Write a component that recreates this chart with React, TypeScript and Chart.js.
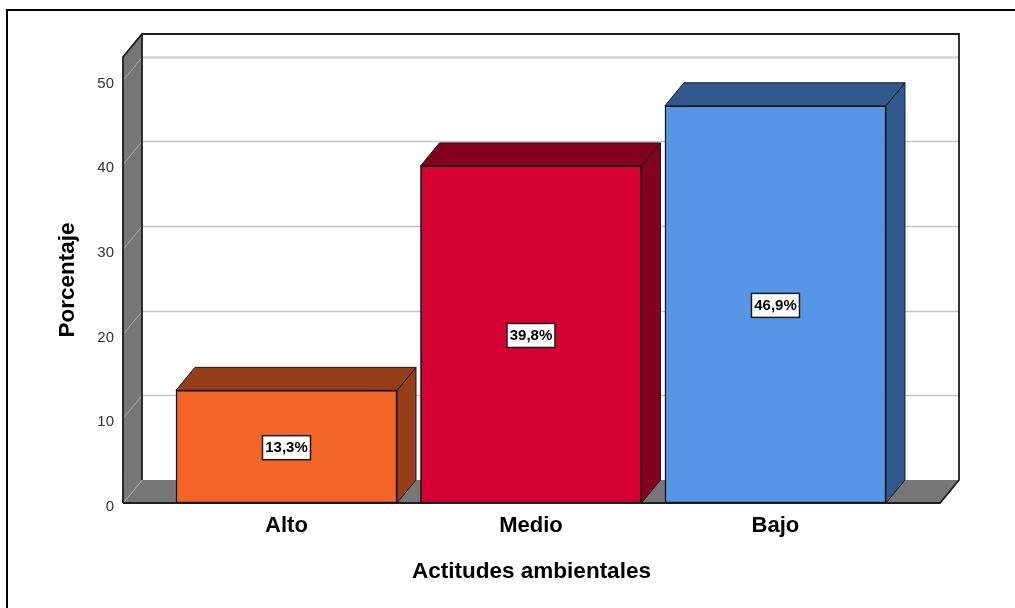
import React, { useEffect, useRef } from "react";
import { Chart, registerables } from "chart.js";

Chart.register(...registerables);

const categories = ["Alto", "Medio", "Bajo"];
const percentages = [13.3, 39.8, 46.9];
const percentLabels = ["13,3%", "39,8%", "46,9%"];
const frontColors = ["#F26527", "#D60032", "#5596E6"];
const sideColors = ["#953E18", "#84001F", "#30598E"];
const yTicks = [0, 10, 20, 30, 40, 50];
const xPositions = [0, 1, 2];
const Y_MAX = 52.66;
const X_MIN = -0.6687;
const X_MAX = 2.673;
const DEPTH_X = 19;
const DEPTH_Y = -23;
const WALL = "#767676";
const FONT = "'Liberation Sans', Arial, sans-serif";

function poly(ctx: CanvasRenderingContext2D, pts: number[][], fill: string | null, stroke: string | null, lw = 1) {
  ctx.beginPath();
  pts.forEach((p, i) => (i ? ctx.lineTo(p[0], p[1]) : ctx.moveTo(p[0], p[1])));
  ctx.closePath();
  if (fill) {
    ctx.fillStyle = fill;
    ctx.fill();
  }
  if (stroke) {
    ctx.strokeStyle = stroke;
    ctx.lineWidth = lw;
    ctx.stroke();
  }
}

const box3d = {
  id: "box3d",
  afterUpdate(chart: any) {
    // the reference prints its value-axis labels slightly below each tick
    chart.scales.y.getLabelItems().forEach((item: any) => {
      item.options.translation[1] += 4;
    });
  },
  beforeDatasetsDraw(chart: any) {
    const { ctx, chartArea: a, scales } = chart;
    const y = scales.y;
    const { left: l, right: r, top: t, bottom: b } = a;
    ctx.save();
    poly(ctx, [[l + DEPTH_X, t + DEPTH_Y], [r + DEPTH_X, t + DEPTH_Y], [r + DEPTH_X, b + DEPTH_Y], [l + DEPTH_X, b + DEPTH_Y]], "#FFFFFF", null);
    poly(ctx, [[l, b], [l + DEPTH_X, b + DEPTH_Y], [r + DEPTH_X, b + DEPTH_Y], [r, b]], WALL, null);
    poly(ctx, [[l, t], [l + DEPTH_X, t + DEPTH_Y], [l + DEPTH_X, b + DEPTH_Y], [l, b]], WALL, null);
    yTicks.forEach((v) => {
      const py = Math.round(y.getPixelForValue(v)) + 0.5;
      ctx.strokeStyle = v === 50 ? "#D4D4D4" : "#C4C4C4";
      ctx.lineWidth = v === 50 ? 2.5 : 1.5;
      if (v > 0) {
        ctx.beginPath();
        ctx.moveTo(l + DEPTH_X, py + DEPTH_Y);
        ctx.lineTo(r + DEPTH_X, py + DEPTH_Y);
        ctx.stroke();
      }
      ctx.strokeStyle = "#ABABAB";
      ctx.lineWidth = 1;
      ctx.beginPath();
      ctx.moveTo(l, py);
      ctx.lineTo(l + DEPTH_X, py + DEPTH_Y);
      ctx.stroke();
    });
    ctx.strokeStyle = "#1E1E1E";
    ctx.lineWidth = 1.8;
    ctx.beginPath();
    ctx.moveTo(l, b);
    ctx.lineTo(l, t);
    ctx.lineTo(l + DEPTH_X, t + DEPTH_Y);
    ctx.lineTo(r + DEPTH_X, t + DEPTH_Y);
    ctx.lineTo(r + DEPTH_X, b + DEPTH_Y);
    ctx.lineTo(r, b);
    ctx.lineTo(l, b);
    ctx.moveTo(l + DEPTH_X, t + DEPTH_Y);
    ctx.lineTo(l + DEPTH_X, b + DEPTH_Y);
    ctx.stroke();
    chart.getDatasetMeta(0).data.forEach((bar: any, i: number) => {
      const { x, y: top, base, width } = bar.getProps(["x", "y", "base", "width"], true);
      const x0 = x - width / 2;
      const x1 = x + width / 2;
      poly(ctx, [[x1, top], [x1 + DEPTH_X, top + DEPTH_Y], [x1 + DEPTH_X, base + DEPTH_Y], [x1, base]], sideColors[i], "#1A1A1A", 1);
      poly(ctx, [[x0, top], [x0 + DEPTH_X, top + DEPTH_Y], [x1 + DEPTH_X, top + DEPTH_Y], [x1, top]], sideColors[i], "#1A1A1A", 1);
    });
    ctx.restore();
  },
  afterDatasetsDraw(chart: any) {
    const { ctx } = chart;
    ctx.save();
    ctx.font = `bold 15px ${FONT}`;
    ctx.textAlign = "center";
    ctx.textBaseline = "middle";
    chart.getDatasetMeta(0).data.forEach((bar: any, i: number) => {
      const { x, y: top, base } = bar.getProps(["x", "y", "base"], true);
      const cy = (top + base) / 2 + 1;
      const w = 48;
      const h = 24;
      ctx.fillStyle = "#FFFFFF";
      ctx.strokeStyle = "#1A1A1A";
      ctx.lineWidth = 1.5;
      ctx.fillRect(x - w / 2, cy - h / 2, w, h);
      ctx.strokeRect(x - w / 2, cy - h / 2, w, h);
      ctx.fillStyle = "#000000";
      ctx.fillText(percentLabels[i], x, cy + 0.5);
    });
    ctx.restore();
  },
};

const pageEdge = {
  id: "pageEdge",
  beforeDraw(chart: any) {
    const { ctx, width, height } = chart;
    ctx.save();
    ctx.fillStyle = "#FFFFFF";
    ctx.fillRect(0, 0, width, height);
    ctx.strokeStyle = "#000000";
    ctx.lineWidth = 2;
    ctx.beginPath();
    ctx.moveTo(7, height);
    ctx.lineTo(7, 10);
    ctx.lineTo(width, 10);
    ctx.stroke();
    ctx.restore();
  },
};

export default function App() {
  const ref = useRef<HTMLCanvasElement | null>(null);
  useEffect(() => {
    const chart = new Chart(ref.current as HTMLCanvasElement, {
      type: "bar",
      data: {
        labels: categories,
        datasets: [
          {
            data: percentages.map((v, i) => ({ x: xPositions[i], y: v })) as any,
            backgroundColor: frontColors,
            borderColor: "#111111",
            borderWidth: 1.5,
            borderSkipped: false,
            barThickness: 221,
          },
        ],
      },
      options: {
        animation: false,
        responsive: false,
        events: [],
        layout: { padding: { left: 0, top: 57, right: 75, bottom: 0 } },
        plugins: { legend: { display: false }, tooltip: { enabled: false } },
        scales: {
          x: {
            type: "linear",
            offset: false,
            min: X_MIN,
            max: X_MAX,
            grid: { display: false },
            border: { display: false },
            afterBuildTicks: (s: any) => {
              s.ticks = xPositions.map((value) => ({ value }));
            },
            afterFit: (s: any) => {
              s.height = 105;
            },
            ticks: {
              autoSkip: false,
              maxRotation: 0,
              minRotation: 0,
              padding: 2,
              color: "#000000",
              font: { family: FONT, size: 22, weight: "bold" },
              callback: (v: any) => categories[v as number],
            },
            title: {
              display: true,
              text: "Actitudes ambientales",
              color: "#000000",
              font: { family: FONT, size: 22.5, weight: "bold" },
              padding: { top: 20, bottom: 23 },
            },
          },
          y: {
            min: 0,
            max: Y_MAX,
            grid: { display: false },
            border: { display: false },
            afterBuildTicks: (s: any) => {
              s.ticks = yTicks.map((value) => ({ value }));
            },
            afterFit: (s: any) => {
              s.width = 123;
            },
            ticks: { padding: 1, color: "#333333", font: { family: FONT, size: 15 } },
            title: {
              display: true,
              text: "Porcentaje",
              color: "#000000",
              font: { family: FONT, size: 22.5, weight: "bold" },
              padding: { top: 54, bottom: 0 },
            },
          },
        },
      },
      plugins: [pageEdge, box3d],
    } as any);
    return () => chart.destroy();
  }, []);
  return (
    <canvas
      ref={ref}
      width={1015}
      height={608}
      style={{ position: "absolute", left: 0, top: 0, display: "block" }}
    />
  );
}
